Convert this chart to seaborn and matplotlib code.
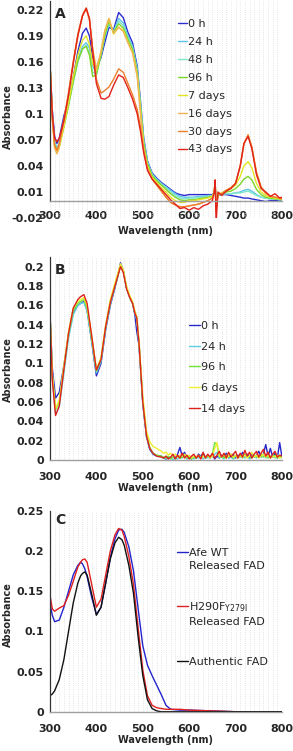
import numpy as np
import pandas as pd
import seaborn as sns
import matplotlib.pyplot as plt
from matplotlib.ticker import MultipleLocator, FuncFormatter
from matplotlib.lines import Line2D

# ---------------- panel A data ----------------
wl_a = [300, 305, 310, 315, 320, 330, 340, 350, 360, 370, 378, 385, 392, 400, 410, 418,
        427, 437, 448, 458, 468, 478, 488, 495, 502, 510, 520, 530, 540, 550, 560, 570,
        580, 590, 600, 610, 620, 630, 640, 650, 654, 656, 658, 662, 670, 680, 690, 700,
        710, 718, 727, 735, 745, 755, 765, 775, 785, 795, 800]

a_0h = [0.158, 0.105, 0.074, 0.066, 0.072, 0.098, 0.115, 0.142, 0.172, 0.193, 0.199, 0.19, 0.165, 0.153, 0.165, 0.182,
        0.2, 0.197, 0.217, 0.211, 0.194, 0.182, 0.155, 0.115, 0.072, 0.046, 0.032, 0.026, 0.021, 0.017, 0.013, 0.009,
        0.007, 0.006, 0.007, 0.007, 0.007, 0.007, 0.007, 0.007, 0.009, 0.016, 0.0, 0.006, 0.007, 0.007, 0.006, 0.005,
        0.004, 0.003, 0.003, 0.002, 0.001, 0.0, -0.001, 0.0, 0.0, 0.0, 0.0]
a_24h = [0.158, 0.1, 0.068, 0.061, 0.066, 0.088, 0.112, 0.138, 0.162, 0.178, 0.182, 0.176, 0.155, 0.148, 0.168, 0.188,
         0.203, 0.195, 0.21, 0.205, 0.19, 0.178, 0.152, 0.112, 0.07, 0.045, 0.031, 0.025, 0.02, 0.016, 0.012, 0.008,
         0.005, 0.004, 0.004, 0.004, 0.005, 0.005, 0.006, 0.006, 0.009, 0.018, -0.004, 0.006, 0.007, 0.008, 0.008, 0.009,
         0.01, 0.012, 0.013, 0.011, 0.007, 0.004, 0.003, 0.002, 0.002, 0.001, 0.001]
a_48h = [0.158, 0.098, 0.066, 0.059, 0.064, 0.086, 0.11, 0.136, 0.16, 0.175, 0.179, 0.17, 0.148, 0.146, 0.168, 0.19,
         0.205, 0.195, 0.207, 0.202, 0.188, 0.176, 0.15, 0.11, 0.068, 0.044, 0.03, 0.024, 0.019, 0.015, 0.01, 0.006,
         0.003, 0.002, 0.003, 0.003, 0.004, 0.004, 0.005, 0.006, 0.01, 0.019, -0.006, 0.006, 0.007, 0.008, 0.008, 0.009,
         0.009, 0.01, 0.011, 0.009, 0.006, 0.004, 0.003, 0.002, 0.002, 0.001, 0.001]
a_96h = [0.158, 0.097, 0.064, 0.058, 0.063, 0.085, 0.11, 0.137, 0.161, 0.175, 0.178, 0.168, 0.143, 0.145, 0.168, 0.19,
         0.207, 0.194, 0.204, 0.199, 0.186, 0.174, 0.148, 0.108, 0.066, 0.043, 0.029, 0.023, 0.018, 0.013, 0.008, 0.004,
         0.001, 0.0, 0.001, 0.001, 0.002, 0.003, 0.004, 0.005, 0.01, 0.02, -0.008, 0.007, 0.008, 0.01, 0.011, 0.014,
         0.019, 0.025, 0.028, 0.024, 0.013, 0.007, 0.004, 0.003, 0.002, 0.002, 0.001]
a_7d = [0.158, 0.095, 0.062, 0.055, 0.061, 0.085, 0.113, 0.142, 0.168, 0.185, 0.19, 0.18, 0.158, 0.15, 0.172, 0.195,
        0.21, 0.192, 0.2, 0.196, 0.183, 0.171, 0.145, 0.104, 0.062, 0.04, 0.027, 0.021, 0.015, 0.01, 0.004, 0.0,
        -0.002, -0.002, 0.0, 0.0, 0.001, 0.002, 0.003, 0.005, 0.01, 0.021, -0.01, 0.008, 0.009, 0.012, 0.014, 0.018,
        0.028, 0.04, 0.045, 0.038, 0.02, 0.01, 0.006, 0.004, 0.003, 0.002, 0.002]
a_16d = [0.158, 0.094, 0.06, 0.054, 0.062, 0.09, 0.122, 0.158, 0.19, 0.213, 0.221, 0.208, 0.175, 0.152, 0.172, 0.196,
         0.21, 0.193, 0.2, 0.195, 0.182, 0.17, 0.143, 0.1, 0.06, 0.038, 0.025, 0.018, 0.011, 0.004, -0.002, -0.005,
         -0.007, -0.007, -0.006, -0.005, -0.004, -0.002, 0.0, 0.003, 0.01, 0.023, -0.012, 0.008, 0.008, 0.012, 0.015, 0.02,
         0.04, 0.065, 0.075, 0.062, 0.032, 0.015, 0.008, 0.005, 0.004, 0.003, 0.002]
a_30d = [0.158, 0.096, 0.064, 0.058, 0.066, 0.094, 0.125, 0.16, 0.192, 0.214, 0.222, 0.21, 0.175, 0.14, 0.124, 0.127,
         0.131, 0.14, 0.152, 0.148, 0.135, 0.122, 0.105, 0.085, 0.058, 0.037, 0.025, 0.018, 0.011, 0.004, -0.002, -0.005,
         -0.007, -0.007, -0.006, -0.005, -0.004, -0.002, 0.0, 0.003, 0.01, 0.023, -0.012, 0.008, 0.008, 0.012, 0.015, 0.02,
         0.04, 0.066, 0.076, 0.062, 0.033, 0.016, 0.009, 0.005, 0.004, 0.003, 0.002]
a_43d = [0.158, 0.1, 0.072, 0.068, 0.072, 0.092, 0.122, 0.158, 0.19, 0.213, 0.222, 0.21, 0.172, 0.135, 0.118, 0.117,
         0.12, 0.133, 0.145, 0.142, 0.13, 0.117, 0.1, 0.08, 0.055, 0.035, 0.025, 0.019, 0.013, 0.007, 0.001, -0.004,
         -0.009, -0.008, -0.011, -0.008, -0.01, -0.006, -0.004, 0.0, 0.01, 0.024, -0.025, 0.01, 0.006, 0.011, 0.014, 0.02,
         0.04, 0.066, 0.074, 0.06, 0.03, 0.014, 0.01, 0.005, 0.008, 0.003, 0.004]

labels_a = ['0 h', '24 h', '48 h', '96 h', '7 days', '16 days', '30 days', '43 days']
colors_a = ['#2b2bd0', '#5cc4ea', '#80e4c8', '#7ed62a', '#e4e424', '#f2b256', '#ee7e2c', '#e2231c']
series_a = [a_0h, a_24h, a_48h, a_96h, a_7d, a_16d, a_30d, a_43d]

# ---------------- panel B data ----------------
wl_b = [300, 305, 312, 320, 330, 340, 350, 360, 366, 373, 380, 390, 400, 410, 420, 430,
        440, 446, 452, 458, 465, 472, 478, 483, 487, 492, 500, 508, 515, 522, 530] + list(range(540, 801, 5))

b_0h = [0.152, 0.095, 0.064, 0.07, 0.098, 0.13, 0.152, 0.16, 0.162, 0.164, 0.155, 0.122, 0.087, 0.1, 0.135, 0.16,
        0.178, 0.19, 0.204, 0.196, 0.178, 0.168, 0.162, 0.15, 0.133, 0.118, 0.058, 0.024, 0.011, 0.006, 0.004,
        0.004, 0.002, 0.001, 0.003, 0.002, 0.003, 0.002, 0.006, 0.013, 0.004, 0.008, 0.002, 0.003, 0.001, 0.004, 0.002,
        0.006, 0.004, 0.007, 0.003, 0.005, 0.002, 0.006, 0.001, 0.004, 0.002, 0.005, 0.003, 0.007, 0.002, 0.004, 0.006,
        0.002, 0.005, 0.003, 0.008, 0.004, 0.006, 0.002, 0.007, 0.003, 0.005, 0.009, 0.003, 0.006, 0.016, 0.004, 0.012,
        0.003, 0.007, 0.002, 0.018, 0.003]
b_24h = [0.152, 0.085, 0.047, 0.055, 0.09, 0.126, 0.15, 0.16, 0.162, 0.163, 0.154, 0.123, 0.09, 0.102, 0.136, 0.161,
         0.179, 0.19, 0.202, 0.195, 0.178, 0.168, 0.162, 0.152, 0.145, 0.12, 0.06, 0.025, 0.012, 0.007, 0.004,
         0.003, 0.002, 0.002, 0.001, 0.003, 0.0, 0.002, 0.001, 0.003, 0.002, 0.004, 0.001, 0.002, 0.003, 0.001, 0.003,
         0.002, 0.004, 0.001, 0.003, 0.002, 0.004, 0.003, 0.006, 0.008, 0.002, 0.003, 0.001, 0.004, 0.002, 0.003, 0.001,
         0.004, 0.002, 0.003, 0.005, 0.002, 0.004, 0.001, 0.003, 0.005, 0.002, 0.004, 0.003, 0.006, 0.002, 0.004, 0.003,
         0.005, 0.002, 0.004, 0.003, 0.002]
b_96h = [0.152, 0.088, 0.052, 0.06, 0.095, 0.13, 0.154, 0.162, 0.164, 0.166, 0.157, 0.125, 0.092, 0.104, 0.138, 0.163,
         0.18, 0.19, 0.201, 0.195, 0.178, 0.168, 0.162, 0.152, 0.148, 0.12, 0.06, 0.026, 0.013, 0.007, 0.005,
         0.004, 0.003, 0.002, 0.004, 0.001, 0.003, 0.002, 0.004, 0.002, 0.003, 0.005, 0.002, 0.004, 0.001, 0.003, 0.002,
         0.004, 0.003, 0.005, 0.002, 0.004, 0.003, 0.006, 0.018, 0.016, 0.003, 0.004, 0.002, 0.005, 0.003, 0.006, 0.002,
         0.004, 0.003, 0.005, 0.002, 0.006, 0.003, 0.004, 0.002, 0.005, 0.003, 0.004, 0.006, 0.003, 0.005, 0.002, 0.004,
         0.003, 0.005, 0.002, 0.004, 0.003]
b_6d = [0.152, 0.089, 0.053, 0.062, 0.098, 0.133, 0.157, 0.164, 0.166, 0.168, 0.159, 0.128, 0.094, 0.106, 0.14, 0.166,
        0.183, 0.193, 0.203, 0.197, 0.18, 0.17, 0.164, 0.154, 0.148, 0.122, 0.066, 0.03, 0.019, 0.014, 0.012,
        0.009, 0.007, 0.008, 0.005, 0.007, 0.004, 0.006, 0.003, 0.005, 0.004, 0.006, 0.003, 0.005, 0.002, 0.004, 0.003,
        0.005, 0.002, 0.004, 0.003, 0.005, 0.002, 0.004, 0.012, 0.018, 0.004, 0.003, 0.005, 0.002, 0.004, 0.006, 0.003,
        0.005, 0.002, 0.004, 0.003, 0.005, 0.002, 0.004, 0.008, 0.003, 0.005, 0.002, 0.004, 0.006, 0.003, 0.005, 0.002,
        0.004, 0.003, 0.005, 0.002, 0.003]
b_14d = [0.152, 0.083, 0.046, 0.056, 0.094, 0.131, 0.157, 0.166, 0.169, 0.171, 0.162, 0.128, 0.093, 0.104, 0.138, 0.163,
         0.18, 0.19, 0.2, 0.194, 0.177, 0.168, 0.162, 0.152, 0.147, 0.12, 0.06, 0.025, 0.012, 0.007, 0.004,
         0.003, 0.002, 0.004, 0.001, 0.003, 0.006, 0.001, 0.005, 0.002, 0.007, 0.002, 0.005, 0.001, 0.004, 0.006, 0.002,
         0.005, 0.001, 0.008, 0.002, 0.006, 0.003, 0.007, 0.002, 0.005, 0.009, 0.003, 0.007, 0.002, 0.008, 0.003, 0.006,
         0.009, 0.002, 0.007, 0.003, 0.01, 0.004, 0.008, 0.002, 0.006, 0.009, 0.003, 0.007, 0.011, 0.004, 0.008, 0.002,
         0.006, 0.009, 0.003, 0.005, 0.004]

labels_b = ['0 h', '24 h', '96 h', '6 days', '14 days']
colors_b = ['#2727c8', '#60d0e2', '#6fe43c', '#eeee30', '#e0201c']
series_b = [b_0h, b_24h, b_96h, b_6d, b_14d]

# ---------------- panel C data ----------------
wl_c = [300, 305, 310, 320, 330, 340, 350, 360, 366, 370, 375, 380, 390, 400, 410, 420, 430, 440, 448,
        455, 460, 470, 480, 490, 500, 510, 520, 530, 540, 550, 560, 580, 600, 650, 700, 750, 800]
c_wt = [0.135, 0.12, 0.112, 0.114, 0.13, 0.15, 0.17, 0.182, 0.186, 0.184, 0.178, 0.168, 0.142, 0.121, 0.13, 0.16,
        0.192, 0.215, 0.226, 0.227, 0.223, 0.205, 0.175, 0.128, 0.082, 0.058, 0.045, 0.033, 0.021, 0.008, 0.003,
        0.002, 0.002, 0.001, 0.0, 0.0, 0.0]
c_mut = [0.145, 0.128, 0.125, 0.129, 0.132, 0.145, 0.162, 0.18, 0.186, 0.189, 0.19, 0.186, 0.158, 0.13, 0.14, 0.17,
         0.2, 0.22, 0.228, 0.226, 0.218, 0.193, 0.158, 0.104, 0.052, 0.02, 0.008, 0.005, 0.004, 0.003, 0.003,
         0.003, 0.002, 0.001, 0.0, 0.0, 0.0]
c_auth = [0.02, 0.022, 0.026, 0.04, 0.065, 0.1, 0.135, 0.16, 0.169, 0.172, 0.174, 0.17, 0.146, 0.12, 0.13, 0.16,
          0.19, 0.21, 0.217, 0.214, 0.207, 0.182, 0.147, 0.093, 0.045, 0.015, 0.004, 0.001, 0.0, 0.0, 0.0,
          0.0, 0.0, 0.0, 0.0, 0.0, 0.0]
labels_c = ['Afe WT\nReleased FAD', 'H290F$_{\\mathregular{Y279I}}$\nReleased FAD', 'Authentic FAD']
colors_c = ['#2323cc', '#e02020', '#111111']
series_c = [c_wt, c_mut, c_auth]


def long_df(wl, series, labels):
    frames = [pd.DataFrame({'wl': wl, 'A': s, 'series': lab}) for s, lab in zip(series, labels)]
    return pd.concat(frames, ignore_index=True)


sns.set_style('white')
plt.rcParams['font.family'] = ['DejaVu Sans']

fig = plt.figure(figsize=(2.93, 7.51), dpi=100)
ax_a = fig.add_axes([0.1706, 0.7097, 0.7918, 0.2887])
ax_b = fig.add_axes([0.1706, 0.3875, 0.7918, 0.2703])
ax_c = fig.add_axes([0.1706, 0.0523, 0.7918, 0.2676])

fmt = FuncFormatter(lambda v, p: f'{round(v, 2):g}')


def style_axis(ax, ylim, ystep, ybase, letter, letter_y, ylab_y, xpad, xlpad):
    ax.set_xlim(300, 800)
    ax.set_ylim(*ylim)
    ax.xaxis.set_major_locator(MultipleLocator(100))
    ax.xaxis.set_minor_locator(MultipleLocator(10))
    ax.set_yticks(np.arange(ybase, ylim[1] + 1e-9, ystep))
    ax.yaxis.set_major_formatter(fmt)
    ax.grid(which='both', axis='x', ls=':', color='#dcdcdc', lw=0.6)
    ax.grid(False, axis='y')
    ax.spines['top'].set_visible(False)
    ax.spines['right'].set_visible(False)
    ax.spines['bottom'].set_position(('data', 0))
    ax.spines['bottom'].set_color('#a0a0a0')
    ax.spines['bottom'].set_linewidth(1.0)
    ax.spines['left'].set_color('#333333')
    ax.spines['left'].set_linewidth(0.9)
    ax.spines['left'].set_bounds(0, ylim[1])
    ax.tick_params(axis='x', which='major', direction='in', length=3, color='#a0a0a0',
                   labelsize=8, pad=xpad)
    ax.tick_params(axis='x', which='minor', length=0)
    ax.tick_params(axis='y', direction='out', length=3, color='#333333', labelsize=8, pad=1.5)
    for t in ax.get_xticklabels() + ax.get_yticklabels():
        t.set_fontweight('bold')
    ax.set_xlabel('Wavelength (nm)', fontsize=7, fontweight='bold', labelpad=xlpad)
    ax.set_ylabel('Absorbance', fontsize=7, fontweight='bold')
    ax.yaxis.set_label_coords(-0.16, ylab_y)
    ax.text(0.022, letter_y, letter, transform=ax.transAxes, fontsize=10,
            fontweight='bold', va='top', ha='left')


# panel A
df_a = long_df(wl_a, series_a, labels_a)
sns.lineplot(data=df_a, x='wl', y='A', hue='series', hue_order=labels_a,
             palette=dict(zip(labels_a, colors_a)), estimator=None, sort=False,
             lw=1.0, ax=ax_a)
style_axis(ax_a, (-0.02, 0.23), 0.03, -0.02, 'A', 0.975, 0.47, 7.5, 3.5)
ax_a.legend(loc='upper left', bbox_to_anchor=(0.552, 0.917), frameon=False,
            fontsize=8, handlelength=0.8, handletextpad=0.1, labelspacing=0.71,
            borderpad=0, borderaxespad=0)

# panel B
df_b = long_df(wl_b, series_b, labels_b)
sns.lineplot(data=df_b, x='wl', y='A', hue='series', hue_order=labels_b,
             palette=dict(zip(labels_b, colors_b)), estimator=None, sort=False,
             lw=1.0, ax=ax_b)
style_axis(ax_b, (0, 0.21), 0.02, 0, 'B', 0.972, 0.443, 8.5, 1)
ax_b.legend(loc='upper left', bbox_to_anchor=(0.599, 0.685), frameon=False,
            fontsize=8, handlelength=1.0, handletextpad=0.1, labelspacing=0.96,
            borderpad=0, borderaxespad=0)

# panel C
df_c = long_df(wl_c, series_c, labels_c)
sns.lineplot(data=df_c, x='wl', y='A', hue='series', hue_order=labels_c,
             palette=dict(zip(labels_c, colors_c)), estimator=None, sort=False,
             lw=1.0, ax=ax_c, legend=False)
style_axis(ax_c, (0, 0.25), 0.05, 0, 'C', 0.988, 0.481, 8.5, 1)
blank = Line2D([], [], color='none')
h_c = [Line2D([], [], color=c, lw=1.0) for c in colors_c]
leg_handles = [h_c[0], blank, blank, blank, h_c[1], blank, blank, blank, h_c[2]]
leg_labels = ['Afe WT', 'Released FAD', ' ', ' ', 'H290F$_{\\mathregular{Y279I}}$', 'Released FAD', ' ', ' ',
              'Authentic FAD']
ax_c.legend(leg_handles, leg_labels, loc='upper left', bbox_to_anchor=(0.547, 0.815),
            frameon=False, fontsize=8, handlelength=1.0, handletextpad=0.1,
            labelspacing=0.28, borderpad=0, borderaxespad=0)

fig.savefig('out.png', dpi=100)
